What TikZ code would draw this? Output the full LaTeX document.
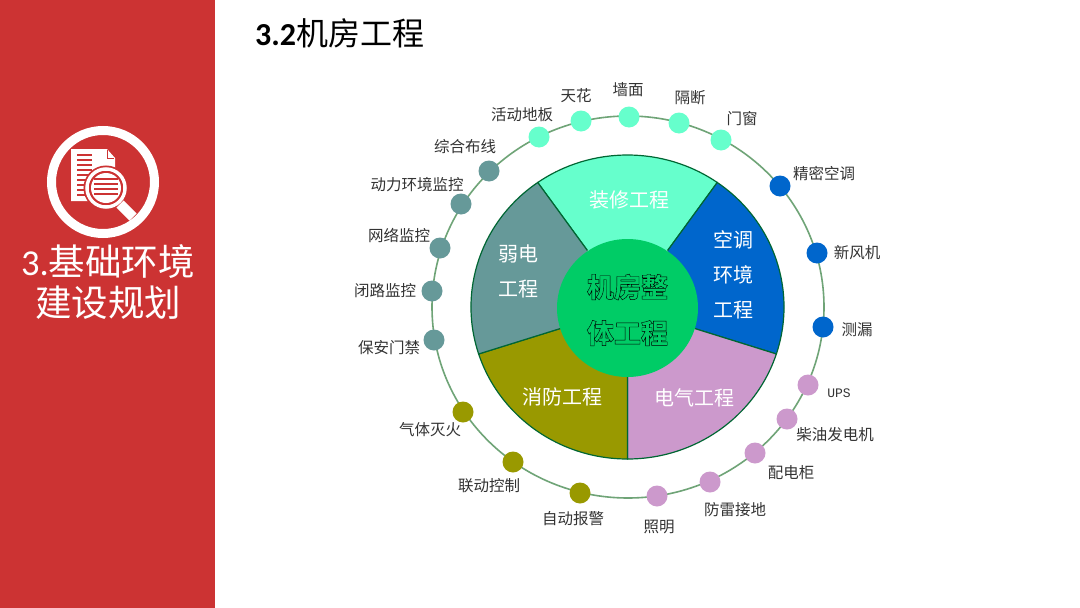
\documentclass[tikz,border=0pt]{standalone}
\usepackage{fontspec}
\setmainfont{Noto Sans CJK SC}
\newfontfamily\latinfont{Carlito}
\newfontfamily\upsfont{Liberation Mono}
\newfontface\outlinefont[FakeBold=1.5]{Noto Sans CJK SC Black}
\newcommand{\hollowtext}[1]{{\outlinefont\special{pdf:code 0 0 0 RG 0 0.8 0.4 rg}#1\special{pdf:code 0 0 0 RG 0 0 0 rg}}}
\definecolor{sidered}{HTML}{CC3333}
\definecolor{aqua}{HTML}{66FFCC}
\definecolor{skyblue}{HTML}{0066CC}
\definecolor{orchidc}{HTML}{CC99CC}
\definecolor{olivec}{HTML}{999900}
\definecolor{tealc}{HTML}{669999}
\definecolor{hubgreen}{HTML}{00CC66}
\definecolor{ringgreen}{HTML}{6FA477}
\definecolor{edgegreen}{HTML}{006633}
\definecolor{labelgrey}{HTML}{333333}
\tikzset{
  dotnode/.style={circle,inner sep=0pt,minimum size=21pt},
  itemlabel/.style={text=labelgrey,inner sep=0pt,yshift=-1pt,font=\fontsize{15.5}{15}\selectfont},
  seclabel/.style={text=white,inner sep=0pt,yshift=-1pt,align=center,font=\fontsize{20}{35}\selectfont},
  sector/.style={draw=edgegreen,line width=1.2pt},
}
\newcommand{\sectorpath}[3]{\draw[sector,fill=#1] (627.5,307) ++(#2:70 and 69) -- (627.5+156.5*cos #2,307+152*sin #2) arc[start angle=#2,end angle=#3,x radius=156.5,y radius=152] -- (627.5+70*cos #3,307+69*sin #3);}
\begin{document}
\begin{tikzpicture}[x=1pt,y=-1pt]
\useasboundingbox (0,0) rectangle (1080,608);
\fill[white] (0,0) rectangle (1080,608);
\fill[sidered] (0,0) rectangle (215,608);
% icon
\draw[white,line width=9pt] (103,182) circle[radius=51.5];
\fill[white] (71,149) -- (107,149) -- (115,158) -- (115,201) -- (71,201) -- cycle;
\foreach \yy in {155,160,165,170,175,180,185,190,195}
  \draw[sidered,line width=1.3pt] (77,\yy) -- (92,\yy);
\draw[sidered,line width=1pt] (107,150) -- (107,158) -- (114,158);
\draw[sidered,line width=7pt] (106,188) circle[radius=19];
\draw[white,line width=3.5pt] (106,188) circle[radius=19];
\fill[sidered] (106,188) circle[radius=17];
\fill[white] (106,188) circle[radius=15];
\foreach \yy in {179,184,189,194}
  \draw[sidered,line width=1.3pt] (94,\yy) -- (118,\yy);
\draw[white,line width=10pt] (120,204) -- (133,217);
\node[text=white,inner sep=0pt,font=\fontsize{36.5}{36}\selectfont] (side1) at (108,262) {{\latinfont 3.}基础环境};
\node[text=white,inner sep=0pt,font=\fontsize{36.5}{36}\selectfont] (side2) at (108,303) {建设规划};
\node[anchor=west,inner sep=0pt,font=\fontsize{32}{32}\selectfont] (title) at (255,33) {{\latinfont\bfseries 3.2}机房工程};
% ring
\draw[ringgreen,line width=1.6pt] (628,307) ellipse[x radius=196,y radius=191];
% sectors
\sectorpath{aqua}{-55}{-125}
\sectorpath{skyblue}{18}{-55}
\sectorpath{orchidc}{90}{18}
\sectorpath{olivec}{162}{90}
\sectorpath{tealc}{235}{162}
\fill[hubgreen] (627.5,308) ellipse[x radius=70.5,y radius=69];
\node[seclabel] (s1) at (629,199) {装修工程};
\node[seclabel] (s2) at (733,274) {空调\\环境\\工程};
\node[seclabel] (s3) at (694,397) {电气工程};
\node[seclabel] (s4) at (562,396) {消防工程};
\node[seclabel] (s5) at (518,270) {弱电\\工程};
\node[inner sep=0pt,font=\fontsize{27}{46}\selectfont,align=center] (hub) at (627.5,310) {\hollowtext{机房整}\\\hollowtext{体工程}};
% dots and labels
\foreach \nm/\c/\dx/\dy/\lx/\ly/\txt in {
 a1/aqua/539/137/522/114/活动地板,
 a2/aqua/581/121/576/95/天花,
 a3/aqua/629/117/628/89/墙面,
 a4/aqua/679/123/690/97/隔断,
 a5/aqua/721/140/742/118/门窗,
 b1/skyblue/780/186/824/173/精密空调,
 b2/skyblue/817/253/857/252/新风机,
 b3/skyblue/823/327/857/329/测漏,
 c1/orchidc/808/385/839/392/{\upsfont\fontsize{13}{13}\selectfont UPS},
 c2/orchidc/787/419/835/434/柴油发电机,
 c3/orchidc/755/453/791/472/配电柜,
 c4/orchidc/710/482/735/509/防雷接地,
 c5/orchidc/657/496/659/526/照明,
 d1/olivec/580/493/573/518/自动报警,
 d2/olivec/513/462/489/485/联动控制,
 d3/olivec/463/412/430/429/气体灭火,
 e1/tealc/434/340/389/347/保安门禁,
 e2/tealc/432/291/385/290/闭路监控,
 e3/tealc/440/248/399/234/网络监控,
 e4/tealc/461/204/417/184/动力环境监控,
 e5/tealc/489/171/465/146/综合布线}
{
 \node[dotnode,fill=\c] (dot\nm) at (\dx,\dy) {};
 \node[itemlabel] (lab\nm) at (\lx,\ly) {\txt};
}
\end{tikzpicture}
\end{document}
